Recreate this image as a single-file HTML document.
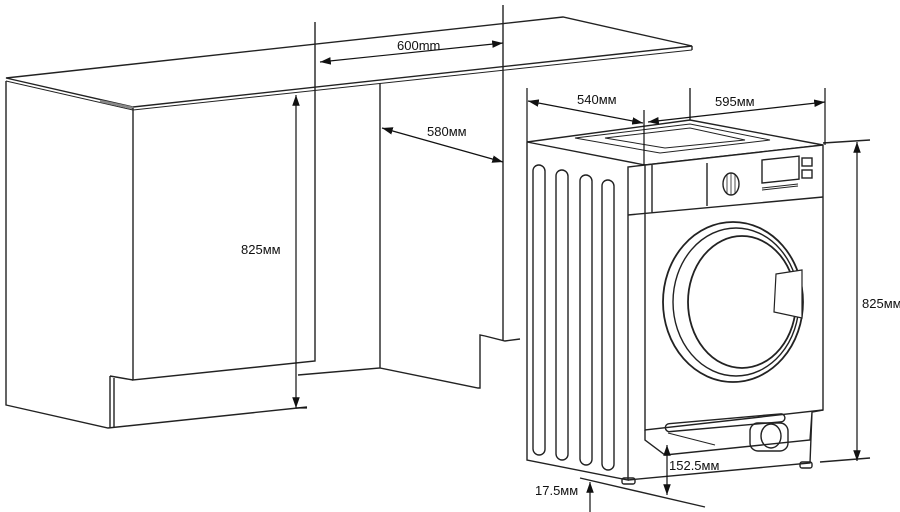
<!DOCTYPE html>
<html><head><style>
html,body{margin:0;padding:0;background:#fff;}
svg{display:block;}
text{font-family:"Liberation Sans",sans-serif;font-size:13px;fill:#111;}
</style></head><body>
<svg width="900" height="512" viewBox="0 0 900 512" xmlns="http://www.w3.org/2000/svg">
<defs>
<marker id="a" viewBox="0 0 10 10" refX="10" refY="5" markerWidth="9" markerHeight="9" orient="auto-start-reverse"><path d="M0,1.5 L10,5 L0,8.5 z" fill="#111"/></marker>
</defs>
<g fill="none" stroke="#222" stroke-width="1.4">
<path d="M6,78 L563,17 L692,46 L133,107 Z" fill="#fff"/>
<line x1="133" y1="110" x2="692" y2="50" stroke-width="1"/>
<line x1="692" y1="46" x2="692" y2="50"/>
<line x1="690" y1="88" x2="690" y2="120"/>
<line x1="6" y1="81" x2="133" y2="110" stroke-width="1"/>
<line x1="100" y1="101" x2="133" y2="108" stroke-width="2.5" stroke="#888"/>
<path d="M6,81 L6,405 L108,428 L307,407"/>
<path d="M133,108 L133,380 L315,361 L315,22"/>
<path d="M110,376 L133,380 M110,376 L110,428 M114,378 L114,428"/>
<path d="M380,83 L380,368 L298,375 M380,368 L478,388 L480,388 L480,335 L485,336 L505,341 L520,339"/>
<line x1="503" y1="5" x2="503" y2="340"/>
<path d="M527,142 L690,120 L823,145 L645,165 Z" fill="#fff"/>
<path d="M575,138 L690,124 L770,140 L660,153 Z" stroke-width="1"/>
<path d="M605,138 L690,128 L745,140 L665,148 Z" stroke-width="1"/>
<path d="M527,142 L527,460 L628,480 L628,167 L645,165"/>
<rect x="533" y="165" width="12" height="290" rx="6" transform="skewY(2)" transform-origin="539 165"/>
<rect x="556" y="170" width="12" height="290" rx="6" transform="skewY(2)" transform-origin="562 170"/>
<rect x="580" y="175" width="12" height="290" rx="6" transform="skewY(2)" transform-origin="586 175"/>
<rect x="602" y="180" width="12" height="290" rx="6" transform="skewY(2)" transform-origin="608 180"/>
<path d="M645,165 L823,145 L823,410 L645,430 Z" fill="#fff"/>
<path d="M628,215 L823,197 M707,163 L707,206 M652,165 L652,213"/>
<ellipse cx="731" cy="184" rx="8" ry="11"/>
<path d="M727,175 L727,193 M731,173 L731,195 M735,175 L735,193" stroke-width="0.8"/>
<rect x="762" y="160" width="37" height="23" transform="skewY(-6)" transform-origin="762 160"/>
<rect x="802" y="158" width="10" height="8"/><rect x="802" y="170" width="10" height="8"/>
<path d="M762,188 L798,184 M762,190 L798,186" stroke-width="1"/>
<ellipse cx="733" cy="302" rx="70" ry="80" stroke-width="1.8"/>
<ellipse cx="736" cy="302" rx="63" ry="74"/>
<ellipse cx="742" cy="302" rx="54" ry="66" stroke-width="1.8"/>
<path d="M776,274 L802,270 L802,318 L774,312 Z" fill="#fff" stroke-width="1.2"/>
<path d="M645,430 L645,440 L665,455 L810,440 L812,412 M628,480 L810,463 L812,412 M812,412 L823,410"/>
<rect x="665" y="424" width="120" height="8" rx="4" transform="rotate(-5 665 424)"/>
<rect x="750" y="423" width="38" height="28" rx="8"/>
<ellipse cx="771" cy="436" rx="10" ry="12"/>
<path d="M668,433 L715,445" stroke-width="1"/>
<rect x="622" y="478" width="13" height="6" rx="2"/>
<rect x="800" y="462" width="12" height="6" rx="2"/>
<path d="M580,478 L705,507 M820,462 L870,458"/>
<path d="M823,143 L870,140"/>
</g>
<g stroke="#111" stroke-width="1.2" fill="none">
<line x1="320" y1="62" x2="503" y2="43" marker-start="url(#a)" marker-end="url(#a)"/>
<line x1="296" y1="95" x2="296" y2="408" marker-start="url(#a)" marker-end="url(#a)"/>
<line x1="296" y1="408" x2="307" y2="408"/>
<line x1="382" y1="128" x2="503" y2="162" marker-start="url(#a)" marker-end="url(#a)"/>
<line x1="527" y1="88" x2="527" y2="142"/>
<line x1="825" y1="88" x2="825" y2="145"/>
<line x1="644" y1="110" x2="644" y2="165"/>
<line x1="528" y1="101" x2="643" y2="123" marker-start="url(#a)" marker-end="url(#a)"/>
<line x1="648" y1="122" x2="825" y2="102" marker-start="url(#a)" marker-end="url(#a)"/>
<line x1="857" y1="142" x2="857" y2="461" marker-start="url(#a)" marker-end="url(#a)"/>
<line x1="667" y1="445" x2="667" y2="495" marker-start="url(#a)" marker-end="url(#a)"/>
<line x1="590" y1="482" x2="590" y2="512" marker-start="url(#a)"/>
</g>
<text x="397" y="50">600mm</text>
<text x="241" y="254">825мм</text>
<text x="427" y="136">580мм</text>
<text x="577" y="104">540мм</text>
<text x="715" y="106">595мм</text>
<text x="862" y="308">825мм</text>
<text x="669" y="470">152.5мм</text>
<text x="535" y="495">17.5мм</text>
</svg>
</body></html>
